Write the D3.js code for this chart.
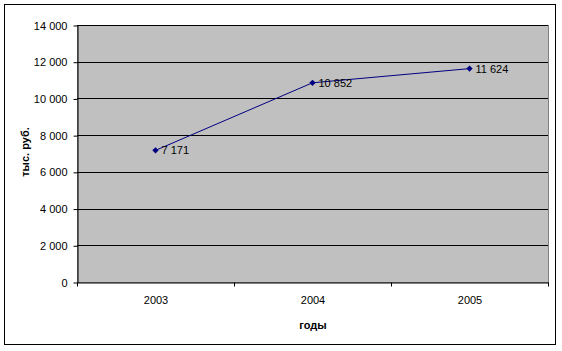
<!DOCTYPE html>
<html>
<head>
<meta charset="utf-8">
<script src="https://cdnjs.cloudflare.com/ajax/libs/d3/7.8.5/d3.min.js"></script>
<style>
  body { margin: 0; background: #fff; }
  svg { display: block; font-family: "Liberation Sans", Arial, sans-serif; }
</style>
</head>
<body>
<div id="chart"></div>
<script>
// data
const years = ['2003', '2004', '2005'];
const values = [7171, 10852, 11624];
const yTicks = [0, 2000, 4000, 6000, 8000, 10000, 12000, 14000];

const width = 562;
const height = 351;
const margin = { left: 77, top: 25, right: 548, bottom: 282 };

const fmt = n => d3.format(',')(n).replace(/,/g, ' ');

const svg = d3.select('#chart')
  .append('svg')
  .attr('width', width)
  .attr('height', height);

// outer frame
svg.append('rect')
  .attr('x', 4.5).attr('y', 4.5)
  .attr('width', 551).attr('height', 340)
  .attr('fill', '#fff')
  .attr('stroke', '#000')
  .attr('stroke-width', 1);

const x = d3.scaleBand()
  .domain(years)
  .range([margin.left, margin.right]);

const y = d3.scaleLinear()
  .domain([0, 14000])
  .range([margin.bottom, margin.top]);

// plot area
svg.append('rect')
  .attr('x', margin.left + 0.5).attr('y', margin.top + 0.5)
  .attr('width', margin.right - margin.left)
  .attr('height', margin.bottom - margin.top)
  .attr('fill', '#c0c0c0')
  .attr('stroke', '#808080');

// gridlines
svg.append('g')
  .selectAll('line')
  .data(yTicks.filter(d => d > 0))
  .enter()
  .append('line')
  .attr('x1', margin.left)
  .attr('x2', margin.right)
  .attr('y1', d => Math.round(y(d)) + 0.5)
  .attr('y2', d => Math.round(y(d)) + 0.5)
  .attr('stroke', '#000');

// y axis
const yAxis = svg.append('g')
  .attr('transform', `translate(${margin.left + 0.5},0.5)`)
  .call(d3.axisLeft(y).tickValues(yTicks).tickSize(4).tickSizeOuter(0).tickPadding(6).tickFormat(fmt));

// x axis
const xAxis = svg.append('g')
  .attr('transform', `translate(0.5,${margin.bottom + 0.5})`)
  .call(d3.axisBottom(x).tickSize(0).tickPadding(14));

xAxis.selectAll('.tick')
  .append('line')
  .attr('x1', -x.bandwidth() / 2).attr('x2', -x.bandwidth() / 2)
  .attr('y1', 0).attr('y2', 4)
  .attr('stroke', '#000');
xAxis.append('line')
  .attr('x1', margin.right).attr('x2', margin.right)
  .attr('y1', 0).attr('y2', 4)
  .attr('stroke', '#000');

[yAxis, xAxis].forEach(a => {
  a.select('.domain').attr('stroke', '#000');
  a.selectAll('text').attr('font-size', 11).attr('fill', '#000')
    .attr('font-family', '"Liberation Sans", Arial, sans-serif');
});

// line
const cx = d => x(d) + x.bandwidth() / 2;
const line = d3.line()
  .x((d, i) => cx(years[i]))
  .y(d => y(d));

svg.append('path')
  .datum(values)
  .attr('d', line)
  .attr('fill', 'none')
  .attr('stroke', '#000080')
  .attr('stroke-width', 1);

// diamond markers (square turned 45deg)
svg.append('g')
  .selectAll('path')
  .data(values)
  .enter()
  .append('path')
  .attr('d', d3.symbol().type(d3.symbolSquare).size(20))
  .attr('transform', (d, i) => `translate(${cx(years[i])},${y(d)}) rotate(45)`)
  .attr('fill', '#000080');

svg.append('g')
  .selectAll('text')
  .data(values)
  .enter()
  .append('text')
  .attr('x', (d, i) => cx(years[i]) + 6)
  .attr('y', d => y(d) + 4)
  .attr('font-size', 11)
  .attr('fill', '#000')
  .text(fmt);

// axis titles
svg.append('text')
  .attr('transform', 'translate(29,152) rotate(-90)')
  .attr('text-anchor', 'middle')
  .attr('font-size', 11)
  .attr('font-weight', 'bold')
  .text('тыс. руб.');

svg.append('text')
  .attr('x', 313)
  .attr('y', 329)
  .attr('text-anchor', 'middle')
  .attr('font-size', 11)
  .attr('font-weight', 'bold')
  .text('годы');
</script>
</body>
</html>
